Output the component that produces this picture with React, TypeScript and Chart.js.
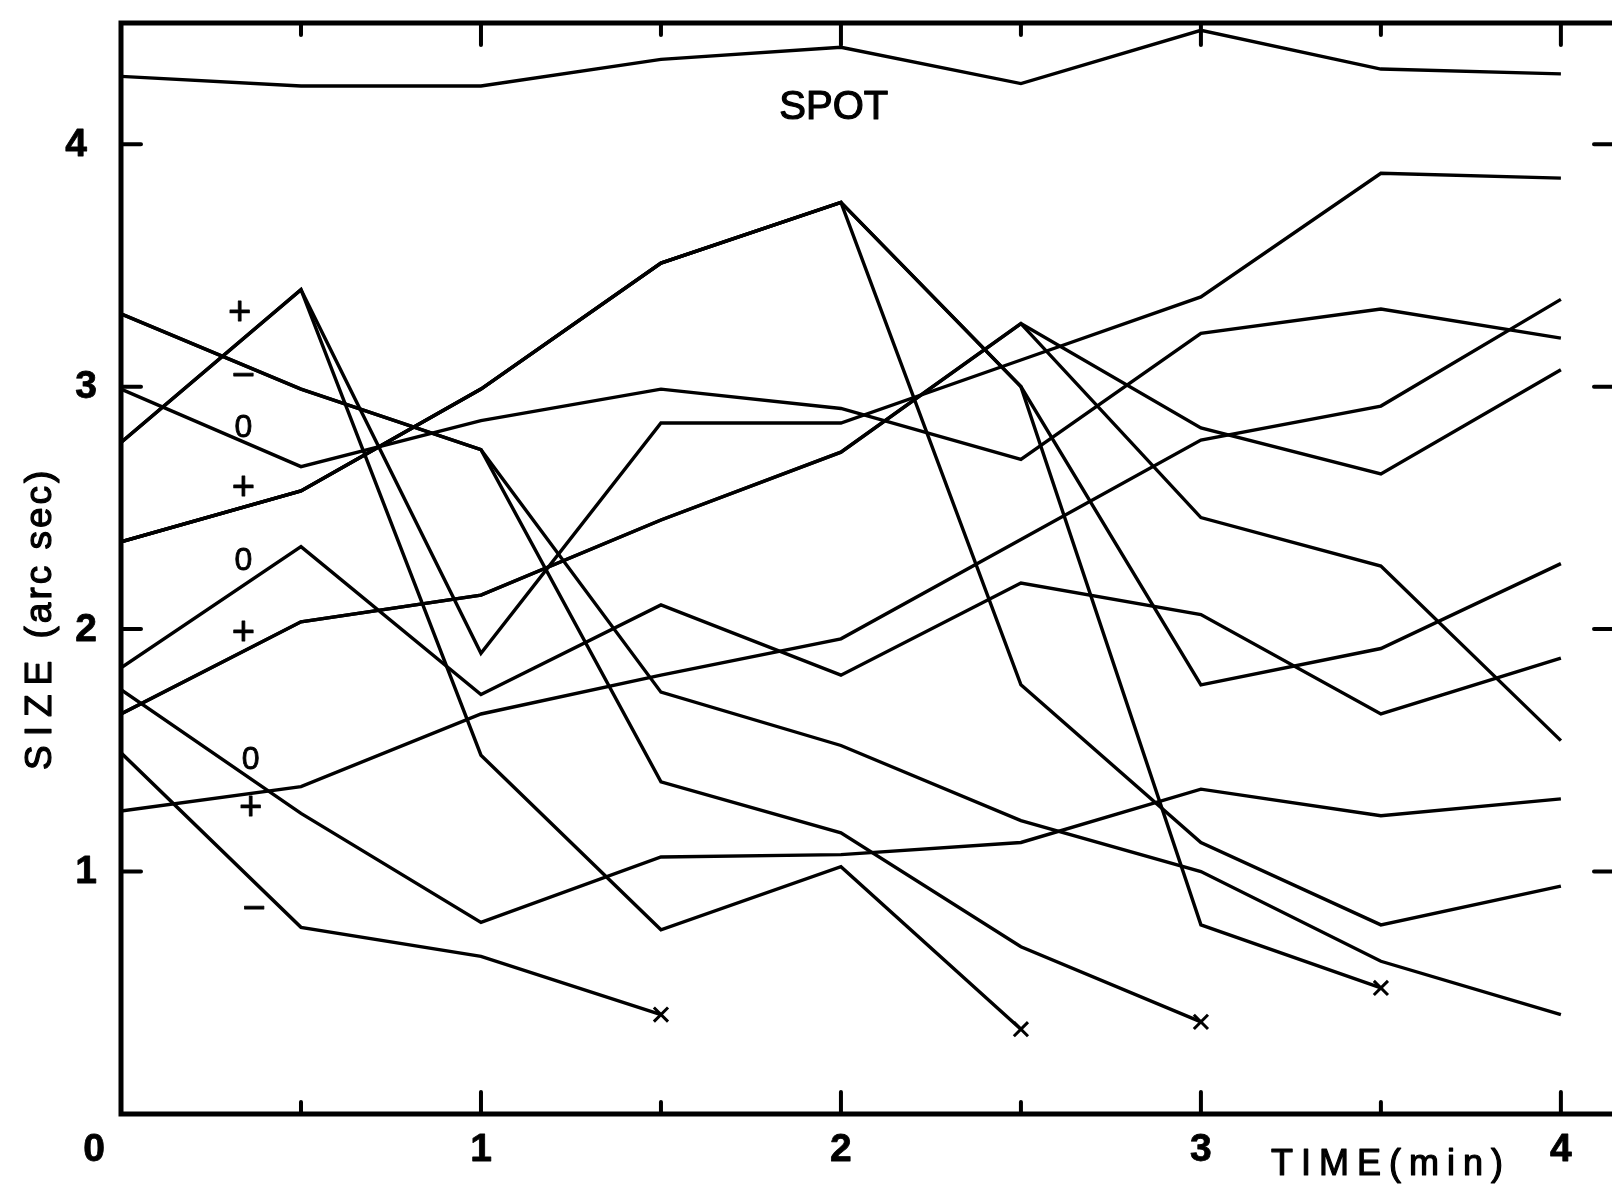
import React, { useEffect, useRef } from 'react';
import { Chart, registerables } from 'chart.js';

Chart.register(...registerables);

// ---- data (time in minutes, size in arc sec) ----
const TIME_MIN = [0, 0.5, 1, 1.5, 2, 2.5, 3, 3.5, 4];

const SPOT = [4.28, 4.24, 4.24, 4.35, 4.4, 4.25, 4.47, 4.31, 4.29];
const GRAN_B1 = [3.3, 2.99, 2.74, 1.74, 1.52, 1.21, 1.0, 0.63, 0.41];
const GRAN_B2 = [3.3, 2.99, 2.74, 1.37, 1.16, 0.69, 0.38, null, null];
const GRAN_C = [2.99, 2.67, 2.86, 2.99, 2.91, 2.7, 3.22, 3.32, 3.2];
const GRAN_E1 = [2.77, 3.4, 1.9, 2.85, 2.85, 3.11, 3.37, 3.88, 3.86];
const GRAN_E2 = [2.77, 3.4, 1.48, 0.76, 1.02, 0.35, null, null, null];
const GRAN_F1A = [2.36, 2.57, 2.99, 3.51, 3.76, 3.0, 1.77, 1.92, 2.27];
const GRAN_F1B = [2.36, 2.57, 2.99, 3.51, 3.76, 3.0, 0.78, 0.52, null];
const GRAN_F2 = [2.36, 2.57, 2.99, 3.51, 3.76, 1.77, 1.12, 0.78, 0.94];
const GRAN_G = [1.84, 2.34, 1.73, 2.1, 1.81, 2.19, 2.06, 1.65, 1.88];
const GRAN_H1 = [1.65, 2.03, 2.14, 2.45, 2.73, 3.26, 2.83, 2.64, 3.07];
const GRAN_H2 = [1.65, 2.03, 2.14, 2.45, 2.73, 3.26, 2.46, 2.26, 1.54];
const GRAN_I = [1.75, 1.24, 0.79, 1.06, 1.07, 1.12, 1.34, 1.23, 1.3];
const GRAN_J = [1.49, 0.77, 0.65, 0.41, null, null, null, null, null];
const GRAN_K = [1.25, 1.35, 1.65, 1.81, 1.96, 2.37, 2.78, 2.92, 3.36];

const ALL_SERIES = [
  SPOT, GRAN_B1, GRAN_B2, GRAN_C, GRAN_E1, GRAN_E2, GRAN_F1A, GRAN_F1B,
  GRAN_F2, GRAN_G, GRAN_H1, GRAN_H2, GRAN_I, GRAN_J, GRAN_K,
];
// series whose last point ends with an "x" (feature disappeared)
const ENDS_WITH_X = [GRAN_B2, GRAN_E2, GRAN_F1B, GRAN_J];

// polarity labels near the start of the tracks
const MARK_TEXT = ['+', '\u2212', '0', '+', '0', '+', '0', '+', '\u2212'];
const MARK_T = [0.33, 0.34, 0.34, 0.34, 0.34, 0.34, 0.36, 0.36, 0.37];
const MARK_V = [3.3, 3.04, 2.83, 2.58, 2.28, 1.98, 1.46, 1.26, 0.84];

const SPOT_LABEL = 'SPOT';
const SPOT_LABEL_T = 1.98;
const SPOT_LABEL_V = 4.15;

// axes
const X_MAX = 4.142;
const Y_MAX = 4.5;
const X_MAJOR_TICKS = [1, 2, 3, 4];
const X_MINOR_TICKS = [0.5, 1.5, 2.5, 3.5];
const X_TICK_VALUES = [0, 1, 2, 3, 4];
const X_TICK_LABELS = ['0', '1', '2', '3', '4'];
const Y_TICK_VALUES = [1, 2, 3, 4];
const Y_TICK_LABELS = ['1', '2', '3', '4'];
const X_TITLE = 'TIME(min)';
const Y_TITLE_A = 'SIZE';
const Y_TITLE_B = ' (arc sec)';

const FONT = '"Liberation Sans", Arial, Helvetica, sans-serif';

const heavyText = (ctx: any, s: string, x: number, y: number, w: number) => {
  ctx.fillText(s, x, y);
  ctx.lineWidth = w;
  ctx.lineJoin = 'round';
  ctx.strokeText(s, x, y);
};

const framePlugin = {
  id: 'framePlugin',
  afterDatasetsDraw(chart: any) {
    const { ctx, chartArea: a, scales } = chart;
    const xs = scales.x;
    const ys = scales.y;
    ctx.save();
    ctx.strokeStyle = '#000';
    ctx.fillStyle = '#000';

    // frame (left, top, bottom)
    ctx.lineWidth = 5;
    ctx.lineJoin = 'miter';
    ctx.beginPath();
    ctx.moveTo(a.right, a.top);
    ctx.lineTo(a.left, a.top);
    ctx.lineTo(a.left, a.bottom);
    ctx.lineTo(a.right, a.bottom);
    ctx.stroke();

    // x ticks (inward, top and bottom)
    ctx.lineWidth = 4;
    ctx.lineCap = 'round';
    const xTick = (v: number, len: number) => {
      const px = xs.getPixelForValue(v);
      ctx.beginPath();
      ctx.moveTo(px, a.top);
      ctx.lineTo(px, a.top + len);
      ctx.moveTo(px, a.bottom);
      ctx.lineTo(px, a.bottom - len);
      ctx.stroke();
    };
    X_MAJOR_TICKS.forEach((v) => xTick(v, 22));
    X_MINOR_TICKS.forEach((v) => xTick(v, 12));

    // y ticks (inward, left and right)
    Y_TICK_VALUES.forEach((v) => {
      const py = ys.getPixelForValue(v);
      ctx.beginPath();
      ctx.moveTo(a.left, py);
      ctx.lineTo(a.left + 20, py);
      ctx.moveTo(a.right, py);
      ctx.lineTo(a.right - 18, py);
      ctx.stroke();
    });
    ctx.lineCap = 'butt';

    // tick labels
    ctx.font = `bold 39px ${FONT}`;
    ctx.textBaseline = 'middle';
    ctx.textAlign = 'right';
    Y_TICK_VALUES.forEach((v, i) => {
      const py = ys.getPixelForValue(v);
      const dx = v === 4 ? -10 : 0;
      heavyText(ctx, Y_TICK_LABELS[i], a.left - 24 + dx, py + 1, 0.8);
    });
    ctx.textAlign = 'center';
    X_TICK_VALUES.forEach((v, i) => {
      const px = xs.getPixelForValue(v) + (v === 0 ? -27 : 0);
      heavyText(ctx, X_TICK_LABELS[i], px, a.bottom + 36, 0.8);
    });

    // x title
    ctx.font = `36px ${FONT}`;
    ctx.textAlign = 'left';
    (ctx as any).letterSpacing = '8px';
    heavyText(ctx, X_TITLE, xs.getPixelForValue(3) + 70, a.bottom + 51, 1.2);

    // y title (rotated)
    ctx.save();
    ctx.translate(a.left - 80, ys.getPixelForValue(2.05));
    ctx.rotate(-Math.PI / 2);
    ctx.textAlign = 'left';
    ctx.font = `37px ${FONT}`;
    (ctx as any).letterSpacing = '9px';
    let x0 = -153;
    heavyText(ctx, Y_TITLE_A, x0, 0, 1.2);
    x0 += ctx.measureText(Y_TITLE_A).width;
    (ctx as any).letterSpacing = '3px';
    heavyText(ctx, Y_TITLE_B, x0, 0, 1.2);
    ctx.restore();
    (ctx as any).letterSpacing = '0px';

    // SPOT label
    ctx.font = `40px ${FONT}`;
    ctx.textAlign = 'center';
    heavyText(ctx, SPOT_LABEL, xs.getPixelForValue(SPOT_LABEL_T), ys.getPixelForValue(SPOT_LABEL_V), 1.2);

    // polarity marks
    MARK_TEXT.forEach((m, i) => {
      ctx.font = `${m === '0' ? 32 : 40}px ${FONT}`;
      heavyText(ctx, m, xs.getPixelForValue(MARK_T[i]), ys.getPixelForValue(MARK_V[i]), 0.8);
    });

    ctx.restore();
  },
};

export default function App() {
  const canvasRef = useRef<HTMLCanvasElement | null>(null);

  useEffect(() => {
    const canvas = canvasRef.current;
    if (!canvas) return;

    const datasets = ALL_SERIES.map((series) => {
      const endsX = ENDS_WITH_X.includes(series);
      let lastIdx = -1;
      series.forEach((v, i) => {
        if (v !== null) lastIdx = i;
      });
      return {
        data: TIME_MIN.map((t, i) => ({ x: t, y: series[i] })),
        borderColor: '#000',
        backgroundColor: '#000',
        borderWidth: 3.4,
        tension: 0,
        fill: false,
        spanGaps: false,
        pointStyle: 'crossRot',
        pointBorderColor: '#000',
        pointBorderWidth: 3,
        pointRadius: (c: any) => (endsX && c.dataIndex === lastIdx ? 10 : 0),
        pointHoverRadius: 0,
      };
    });

    const chart = new Chart(canvas, {
      type: 'line',
      data: { datasets: datasets as any },
      options: {
        responsive: false,
        animation: false,
        devicePixelRatio: 1,
        layout: { padding: { left: 121, top: 23, right: 0, bottom: 72 } },
        plugins: {
          legend: { display: false },
          tooltip: { enabled: false },
        },
        events: [],
        scales: {
          x: { type: 'linear', min: 0, max: X_MAX, display: false },
          y: { type: 'linear', min: 0, max: Y_MAX, display: false },
        },
      },
      plugins: [framePlugin],
    });

    return () => chart.destroy();
  }, []);

  return (
    <div style={{ position: 'absolute', left: 0, top: 0, width: 1612, height: 1186, background: '#fff' }}>
      <canvas ref={canvasRef} width={1612} height={1186} style={{ display: 'block' }} />
    </div>
  );
}
